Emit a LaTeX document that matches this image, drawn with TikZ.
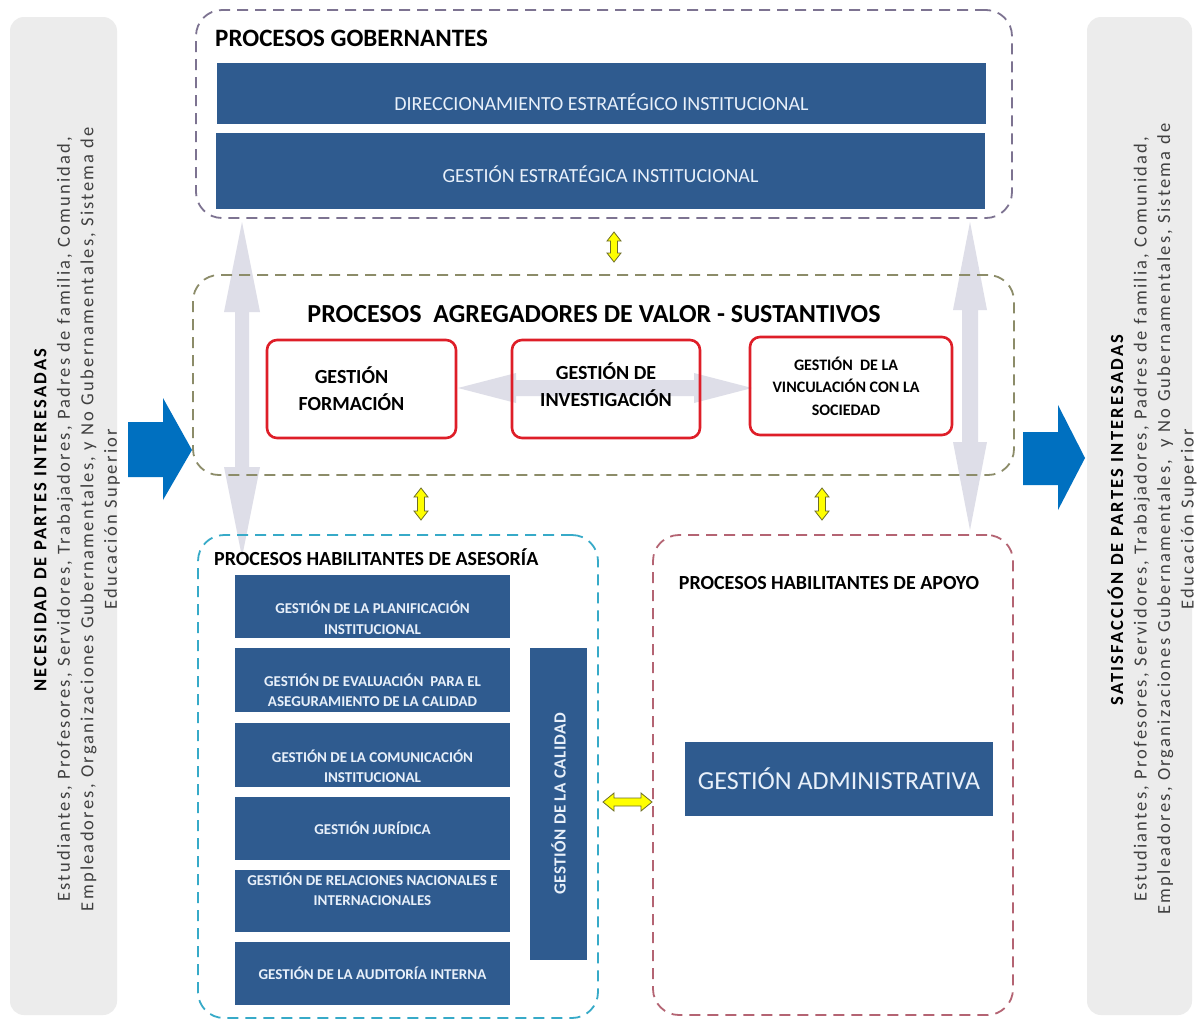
\documentclass[tikz,border=0pt]{standalone}
\usepackage{fontspec}
\setmainfont{Carlito}
\definecolor{barblue}{RGB}{47,91,143}
\definecolor{bartext}{RGB}{232,240,250}
\definecolor{panelgray}{RGB}{236,236,236}
\definecolor{sidegray}{RGB}{64,64,64}
\definecolor{gobdash}{RGB}{125,115,145}
\definecolor{agrdash}{RGB}{140,140,105}
\definecolor{asedash}{RGB}{55,170,200}
\definecolor{apodash}{RGB}{180,100,115}
\definecolor{redbox}{RGB}{222,30,40}
\definecolor{ghost}{RGB}{222,222,232}
\definecolor{flowblue}{RGB}{0,112,192}
\definecolor{ylw}{RGB}{255,255,0}
\definecolor{ylwline}{RGB}{110,110,40}
% vertical double arrow: style, x, ytop, ybot, half shaft, half head, head length
\newcommand{\vdarr}[7]{\filldraw[#1] (#2,#3) -- (#2+#6,#3+#7) -- (#2+#5,#3+#7) -- (#2+#5,#4-#7) -- (#2+#6,#4-#7) -- (#2,#4) -- (#2-#6,#4-#7) -- (#2-#5,#4-#7) -- (#2-#5,#3+#7) -- (#2-#6,#3+#7) -- cycle;}
% horizontal double arrow: style, y, xleft, xright, half shaft, half head, head length
\newcommand{\hdarr}[7]{\filldraw[#1] (#3,#2) -- (#3+#7,#2-#6) -- (#3+#7,#2-#5) -- (#4-#7,#2-#5) -- (#4-#7,#2-#6) -- (#4,#2) -- (#4-#7,#2+#6) -- (#4-#7,#2+#5) -- (#3+#7,#2+#5) -- (#3+#7,#2+#6) -- cycle;}
\begin{document}
\begin{tikzpicture}[x=1pt,y=-1pt,
  panel/.style={fill=panelgray, draw=none, rounded corners=14pt, inner sep=0pt},
  sidetext/.style={rotate=90, align=center, text=sidegray, font=\fontsize{18.5}{23.5}\selectfont\addfontfeature{LetterSpace=12}},
  container/.style={draw=#1, line width=1.8pt, dash pattern=on 11pt off 7pt, rounded corners=26pt, inner sep=0pt, fill=none},
  bar/.style={fill=barblue, draw=none, text=bartext, inner sep=0pt, align=center},
  bartxt/.style={text=bartext, inner sep=0pt, align=center},
  redgest/.style={draw=redbox, line width=2.6pt, rounded corners=10pt, inner sep=0pt, align=center, font=\bfseries\fontsize{20}{27}\selectfont},
  title/.style={font=\bfseries\fontsize{20}{24}\selectfont, inner sep=0pt},
  smallbar/.style={bar, minimum width=275pt},
  smalltxt/.style={bartxt, font=\bfseries\fontsize{15}{20.5}\selectfont},
  ghostarrow/.style={fill=ghost, draw=none},
  yarrow/.style={fill=ylw, draw=ylwline, line width=0.8pt},
  bluearrow/.style={fill=flowblue, draw=none}
]
\useasboundingbox (0,0) rectangle (1201,1021);
\fill[white] (0,0) rectangle (1201,1021);

% side panels
\node[panel, minimum width=107pt, minimum height=998pt] (lpanel) at (63.5,516) {};
\node[panel, minimum width=105pt, minimum height=998pt] (rpanel) at (1139.5,516) {};
\node[sidetext] (needtext) at (77,519) {{\color{black}\textbf{NECESIDAD DE PARTES INTERESADAS}}\\Estudiantes, Profesores, Servidores, Trabajadores, Padres de familia, Comunidad,\\Empleadores, Organizaciones Gubernamentales, y No Gubernamentales, Sistema de\\Educación Superior};
\node[sidetext] (sattext) at (1152,519) {{\color{black}\textbf{SATISFACCIÓN DE PARTES INTERESADAS}}\\Estudiantes, Profesores, Servidores, Trabajadores, Padres de familia, Comunidad,\\Empleadores, Organizaciones Gubernamentales, \ y No Gubernamentales, Sistema de\\Educación Superior};

% blue flow arrows
\fill[bluearrow] (128,422) -- (163,422) -- (163,398) -- (192,450) -- (163,500) -- (163,477) -- (128,477) -- cycle;
\fill[bluearrow] (1023,432) -- (1058,432) -- (1058,405) -- (1085,458) -- (1058,510) -- (1058,485) -- (1023,485) -- cycle;

% ghost arrows (behind)
\vdarr{ghostarrow}{242}{222}{557}{7}{18}{90}
\vdarr{ghostarrow}{970}{222}{530}{8}{17}{88}
\hdarr{ghostarrow}{388}{458}{752}{8}{15}{58}

% governing processes
\node[container=gobdash, minimum width=816pt, minimum height=208pt] (gob) at (604,114) {};
\node[title, font=\bfseries\fontsize{25}{30}\selectfont, anchor=west] (gobt) at (215,38) {PROCESOS GOBERNANTES};
\node[bar, minimum width=769pt, minimum height=61pt] (dir) at (601.5,93.5) {};
\node[bartxt, font=\fontsize{20}{24}\selectfont, yshift=-9pt] (dirt) at (dir.center) {DIRECCIONAMIENTO ESTRATÉGICO INSTITUCIONAL};
\node[bar, minimum width=769pt, minimum height=76pt] (gei) at (600.5,171) {};
\node[bartxt, font=\fontsize{20}{24}\selectfont, yshift=-3pt] (geit) at (gei.center) {GESTIÓN ESTRATÉGICA INSTITUCIONAL};

% value-adding processes
\node[container=agrdash, minimum width=821pt, minimum height=200pt] (agr) at (603.5,375) {};
\node[title, font=\bfseries\fontsize{26}{30}\selectfont] (agrt) at (594,314) {PROCESOS\ \ AGREGADORES DE VALOR - SUSTANTIVOS};
\node[redgest, minimum width=189pt, minimum height=98pt] (form) at (361.5,389) {\hspace*{-20pt}GESTIÓN\\\hspace*{-20pt}FORMACIÓN};
\node[redgest, minimum width=188pt, minimum height=98pt] (inv) at (606,389) {};
\node[align=center, inner sep=0pt, font=\bfseries\fontsize{20}{27}\selectfont, yshift=4pt] (invt) at (inv.center) {GESTIÓN DE\\INVESTIGACIÓN};
\node[redgest, minimum width=202pt, minimum height=98pt, font=\bfseries\fontsize{16}{22.5}\selectfont] (vin) at (851,386) {\hspace*{-10pt}GESTIÓN \ DE LA\\\hspace*{-10pt}VINCULACIÓN CON LA\\\hspace*{-10pt}SOCIEDAD};

% advisory processes
\node[container=asedash, minimum width=400pt, minimum height=483pt] (ase) at (398,776.5) {};
\node[title, anchor=west] (aset) at (214,557) {PROCESOS HABILITANTES DE ASESORÍA};
\node[smallbar, minimum height=63pt] (pla) at (372.5,606.5) {};
\node[smalltxt, yshift=-11pt] (plat) at (pla.center) {GESTIÓN DE LA PLANIFICACIÓN\\INSTITUCIONAL};
\node[smallbar, minimum height=64pt] (eva) at (372.5,680) {};
\node[smalltxt, yshift=-10pt] (evat) at (eva.center) {GESTIÓN DE EVALUACIÓN \ PARA EL\\ASEGURAMIENTO DE LA CALIDAD};
\node[smallbar, minimum height=64pt] (com) at (372.5,755) {};
\node[smalltxt, yshift=-11pt] (comt) at (com.center) {GESTIÓN DE LA COMUNICACIÓN\\INSTITUCIONAL};
\node[smallbar, minimum height=63pt] (jur) at (372.5,828.5) {};
\node[smalltxt] (jurt) at (jur.center) {GESTIÓN JURÍDICA};
\node[smallbar, minimum height=62pt] (rel) at (372.5,901) {};
\node[smalltxt, yshift=12pt] (relt) at (rel.center) {GESTIÓN DE RELACIONES NACIONALES E\\INTERNACIONALES};
\node[smallbar, minimum height=63pt] (aud) at (372.5,973.5) {};
\node[smalltxt] (audt) at (aud.center) {GESTIÓN DE LA AUDITORÍA INTERNA};
\node[bar, minimum width=57pt, minimum height=312pt] (cal) at (558.5,804) {};
\node[bartxt, rotate=90, font=\bfseries\fontsize{17}{20}\selectfont\addfontfeature{LetterSpace=3}] (calt) at (cal.center) {GESTIÓN DE LA CALIDAD};

% support processes
\node[container=apodash, minimum width=360pt, minimum height=480pt] (apo) at (833,775) {};
\node[title] (apot) at (829,583) {PROCESOS HABILITANTES DE APOYO};
\node[bar, minimum width=308pt, minimum height=74pt, font=\fontsize{26}{30}\selectfont] (adm) at (839,779) {GESTIÓN ADMINISTRATIVA};

% yellow connectors
\vdarr{yarrow}{614}{232}{262}{3.5}{7}{9}
\vdarr{yarrow}{421}{488}{520}{3.5}{7}{9}
\vdarr{yarrow}{822}{488}{520}{3.5}{7}{9}
\hdarr{yarrow}{802}{603}{652}{4}{9}{11}
\end{tikzpicture}
\end{document}
